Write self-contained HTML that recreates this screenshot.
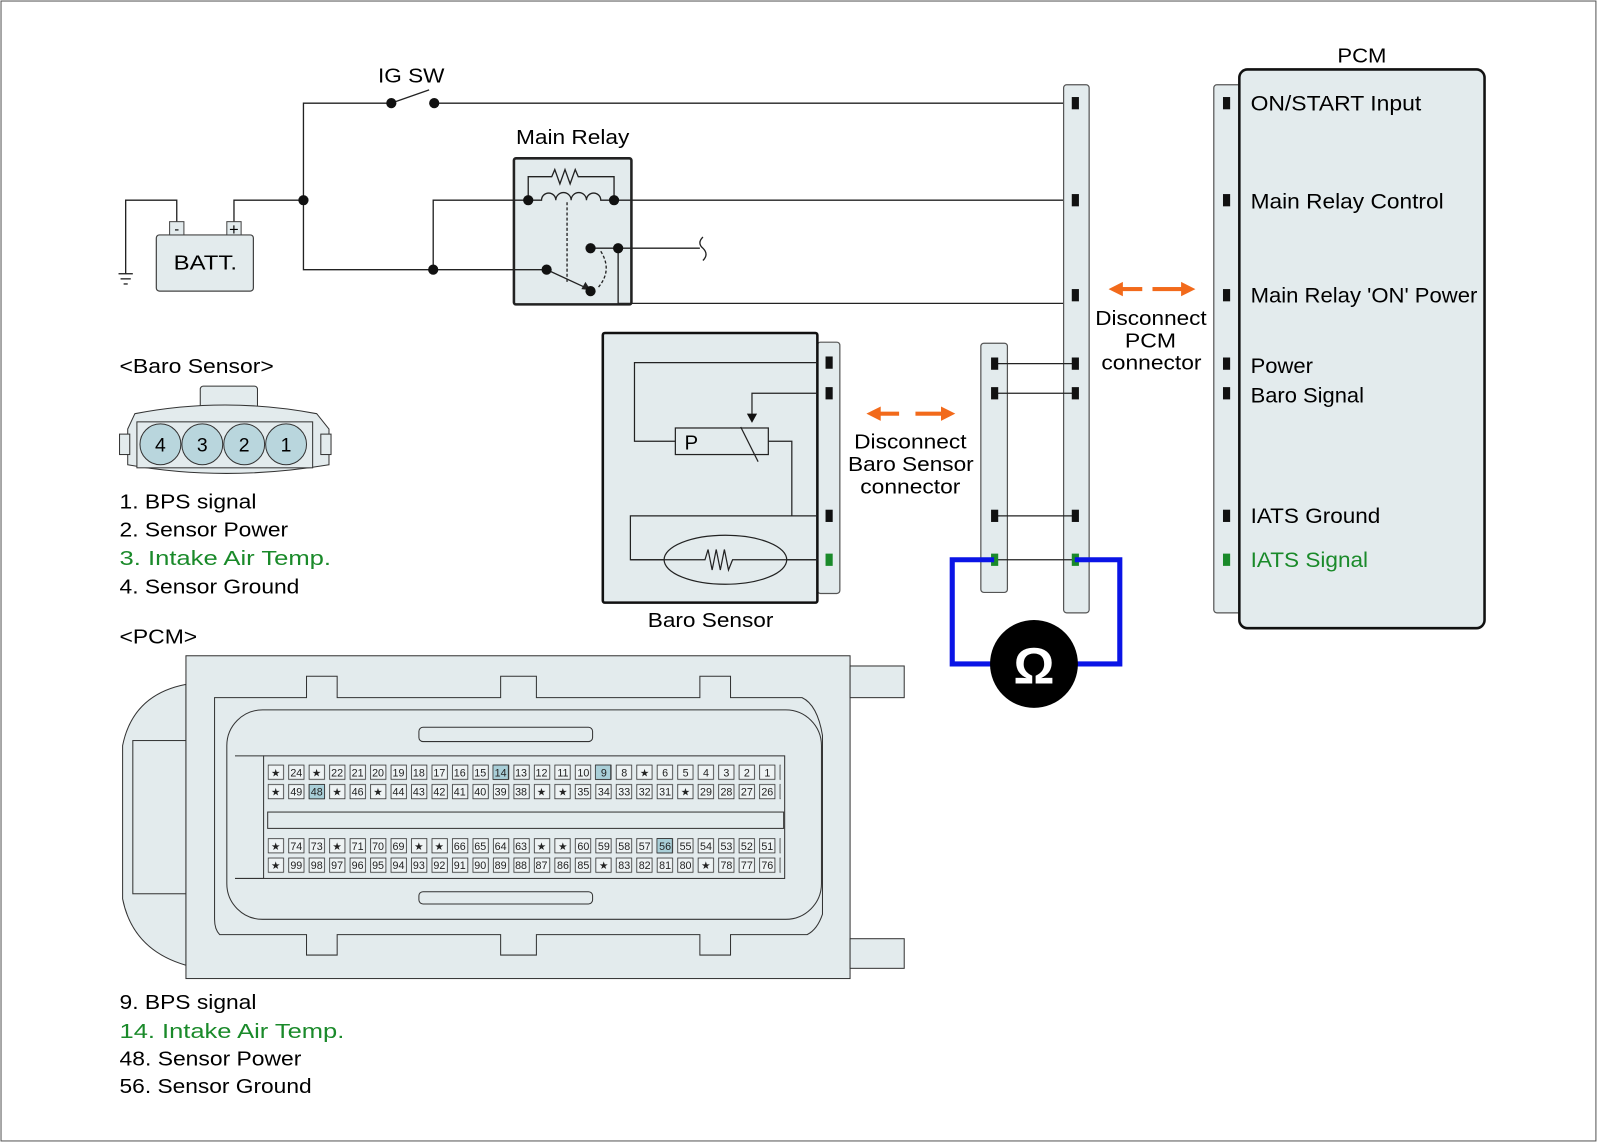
<!DOCTYPE html>
<html><head><meta charset="utf-8"><style>
html,body{margin:0;padding:0;background:#fff}
svg{display:block}
text{font-family:"Liberation Sans",sans-serif}
</style></head><body>
<svg width="1600" height="1143" viewBox="0 0 1566 1119" preserveAspectRatio="none" xmlns="http://www.w3.org/2000/svg">
<defs>
<pattern id="pins" x="262" y="0" width="20.04" height="1119" patternUnits="userSpaceOnUse">
<rect x="0.5" y="749" width="15" height="14" fill="#eef3f4" stroke="#333" stroke-width="0.8"/>
<rect x="0.5" y="768" width="15" height="14" fill="#eef3f4" stroke="#333" stroke-width="0.8"/>
<rect x="0.5" y="821" width="15" height="14" fill="#eef3f4" stroke="#333" stroke-width="0.8"/>
<rect x="0.5" y="840" width="15" height="14" fill="#eef3f4" stroke="#333" stroke-width="0.8"/>
</pattern>
</defs>
<rect x="1" y="1" width="1561" height="1116" fill="#fff" stroke="#555" stroke-width="1"/>

<!-- relay fill first -->
<rect x="503" y="155" width="115" height="143" rx="2" fill="#e3ebed"/>

<!-- wires -->
<g stroke="#222" stroke-width="1.3" fill="none">
<polyline points="297,196 297,101 383,101"/>
<line x1="383" y1="101" x2="420" y2="88"/>
<line x1="425" y1="101" x2="1052" y2="101"/>
<polyline points="173,218 173,196 123,196 123,268"/>
<line x1="116" y1="268" x2="130" y2="268"/><line x1="118" y1="273" x2="128" y2="273"/><line x1="121" y1="278" x2="125" y2="278"/>
<polyline points="229,218 229,196 297,196"/>
<polyline points="297,196 297,264 535,264"/>
<polyline points="424,264 424,196 517,196"/>
<line x1="601" y1="196" x2="1052" y2="196"/>
<polyline points="517,196 517,173 540,173 543,166 548,180 553,166 558,180 563,166 566,173 601,173 601,196"/>
<path d="M517,196 H530 a7,7 0 0 1 14,0 a7,7 0 0 1 15,0 a7,7 0 0 1 15,0 a7,7 0 0 1 14,0 H601"/>
<line x1="555" y1="198" x2="555" y2="278" stroke-dasharray="3,2"/>
<path d="M588,246 Q600,265 585,282" stroke-dasharray="3,2"/>
<line x1="535" y1="264" x2="574" y2="282"/>
<polyline points="578,243 685,243"/>
<path d="M688,232 q-6,6 0,11 q6,6 0,12"/>
<polyline points="605,243 605,297 1052,297" />
</g>
<polygon points="578,284 569,283 573,276" fill="#222"/>
<g fill="#111">
<circle cx="383" cy="101" r="5"/><circle cx="425" cy="101" r="5"/>
<circle cx="297" cy="196" r="5"/><circle cx="424" cy="264" r="5"/>
<circle cx="517" cy="196" r="5"/><circle cx="601" cy="196" r="5"/>
<circle cx="535" cy="264" r="5"/><circle cx="578" cy="285" r="5"/>
<circle cx="578" cy="243" r="5"/><circle cx="605" cy="243" r="5"/>
</g>
<rect x="503" y="155" width="115" height="143" rx="2" fill="none" stroke="#222" stroke-width="2.5"/>
<text x="370" y="81" font-size="20" textLength="65" lengthAdjust="spacingAndGlyphs">IG SW</text>
<text x="505" y="141" font-size="20" textLength="111" lengthAdjust="spacingAndGlyphs">Main Relay</text>

<!-- battery -->
<rect x="153" y="230" width="95" height="55" rx="3" fill="#e3ebed" stroke="#444" stroke-width="1.2"/>
<rect x="166" y="217" width="14" height="13" fill="#e3ebed" stroke="#444"/>
<rect x="222" y="217" width="14" height="13" fill="#e3ebed" stroke="#444"/>
<text x="173" y="229" font-size="14" text-anchor="middle">-</text>
<text x="229" y="230" font-size="16" text-anchor="middle">+</text>
<text x="170" y="264" font-size="20" textLength="62" lengthAdjust="spacingAndGlyphs">BATT.</text>

<!-- connector strips -->
<rect x="1041" y="83" width="25" height="517" rx="3" fill="#e3ebed" stroke="#555" stroke-width="1.2"/>
<rect x="960" y="336" width="26" height="244" rx="3" fill="#e3ebed" stroke="#555" stroke-width="1.2"/>
<rect x="800" y="335" width="22" height="246" rx="3" fill="#e3ebed" stroke="#555" stroke-width="1.2"/>
<rect x="1188" y="83" width="30" height="517" rx="3" fill="#e3ebed" stroke="#555" stroke-width="1.2"/>
<rect x="1213" y="68" width="240" height="547" rx="8" fill="#e3ebed" stroke="#111" stroke-width="2.5"/>
<text x="1309" y="61" font-size="20" textLength="48" lengthAdjust="spacingAndGlyphs">PCM</text>

<g stroke="#222" stroke-width="1.2" fill="none">
<line x1="973" y1="356" x2="1052" y2="356"/>
<line x1="973" y1="385" x2="1052" y2="385"/>
<line x1="973" y1="505" x2="1052" y2="505"/>
<line x1="973" y1="548" x2="1052" y2="548"/>
</g>
<g fill="#111">
<rect x="1049" y="95" width="7" height="12"/><rect x="1049" y="190" width="7" height="12"/>
<rect x="1049" y="283" width="7" height="12"/><rect x="1049" y="350" width="7" height="12"/>
<rect x="1049" y="379" width="7" height="12"/><rect x="1049" y="499" width="7" height="12"/>
<rect x="970" y="350" width="7" height="12"/><rect x="970" y="379" width="7" height="12"/>
<rect x="970" y="499" width="7" height="12"/>
<rect x="808" y="349" width="7" height="12"/><rect x="808" y="379" width="7" height="12"/>
<rect x="808" y="499" width="7" height="12"/>
<rect x="1197" y="95" width="7" height="12"/><rect x="1197" y="190" width="7" height="12"/>
<rect x="1197" y="283" width="7" height="12"/><rect x="1197" y="350" width="7" height="12"/>
<rect x="1197" y="379" width="7" height="12"/><rect x="1197" y="499" width="7" height="12"/>
</g>
<g fill="#1a8a2a">
<rect x="1049" y="542" width="7" height="12"/><rect x="970" y="542" width="7" height="12"/>
<rect x="808" y="542" width="7" height="12"/><rect x="1197" y="542" width="7" height="12"/>
</g>
<g font-size="21" lengthAdjust="spacingAndGlyphs">
<text x="1224" y="108" textLength="167" lengthAdjust="spacingAndGlyphs">ON/START Input</text>
<text x="1224" y="204" textLength="189" lengthAdjust="spacingAndGlyphs">Main Relay Control</text>
<text x="1224" y="296" textLength="222" lengthAdjust="spacingAndGlyphs">Main Relay 'ON' Power</text>
<text x="1224" y="365" textLength="61" lengthAdjust="spacingAndGlyphs">Power</text>
<text x="1224" y="394" textLength="111" lengthAdjust="spacingAndGlyphs">Baro Signal</text>
<text x="1224" y="512" textLength="127" lengthAdjust="spacingAndGlyphs">IATS Ground</text>
<text x="1224" y="555" fill="#1a8a2a" textLength="115" lengthAdjust="spacingAndGlyphs">IATS Signal</text>
</g>

<!-- baro sensor -->
<rect x="590" y="326" width="210" height="264" rx="2" fill="#e3ebed" stroke="#111" stroke-width="2.5"/>
<g stroke="#222" stroke-width="1.2" fill="none">
<polyline points="800,355 621,355 621,432 661,432"/>
<rect x="661" y="419" width="91" height="26"/>
<polyline points="800,385 736,385 736,406"/>
<line x1="725" y1="418" x2="742" y2="452"/>
<polyline points="752,432 775,432 775,505"/>
<polyline points="800,505 617,505 617,548 800,548" />
<ellipse cx="710" cy="548" rx="60" ry="24" fill="#e3ebed"/>
<polyline points="650,548 690,548 693,538 697,558 701,538 705,558 709,538 713,558 717,548 800,548"/>
<line x1="617" y1="548" x2="650" y2="548"/>
</g>
<polygon points="731,405 741,405 736,414" fill="#111"/>
<text x="670" y="440" font-size="20">P</text>
<text x="634" y="614" font-size="20" textLength="123" lengthAdjust="spacingAndGlyphs">Baro Sensor</text>

<!-- orange arrows -->
<g fill="#f26a1b">
<rect x="858" y="403" width="22" height="4"/><polygon points="848,405 862,398 862,412"/>
<rect x="896" y="403" width="27" height="4"/><polygon points="935,405 921,398 921,412"/>
<rect x="1096" y="281" width="22" height="4"/><polygon points="1085,283 1099,276 1099,290"/>
<rect x="1128" y="281" width="30" height="4"/><polygon points="1170,283 1156,276 1156,290"/>
</g>
<g font-size="20">
<text x="836" y="439" textLength="110" lengthAdjust="spacingAndGlyphs">Disconnect</text>
<text x="830" y="461" textLength="123" lengthAdjust="spacingAndGlyphs">Baro Sensor</text>
<text x="842" y="483" textLength="98" lengthAdjust="spacingAndGlyphs">connector</text>
<text x="1072" y="318" textLength="109" lengthAdjust="spacingAndGlyphs">Disconnect</text>
<text x="1101" y="340" textLength="50" lengthAdjust="spacingAndGlyphs">PCM</text>
<text x="1078" y="362" textLength="98" lengthAdjust="spacingAndGlyphs">connector</text>
</g>

<!-- ohmmeter -->
<polyline points="973,548 932,548 932,650 975,650" fill="none" stroke="#0a14e6" stroke-width="5"/>
<polyline points="1050,650 1096,650 1096,548 1052,548" fill="none" stroke="#0a14e6" stroke-width="5"/>
<circle cx="1012" cy="650" r="43" fill="#000"/>
<text x="1012" y="669" font-size="50" font-weight="bold" fill="#fff" text-anchor="middle">Ω</text>

<!-- baro connector drawing -->
<text x="117" y="365" font-size="20" textLength="151" lengthAdjust="spacingAndGlyphs">&lt;Baro Sensor&gt;</text>
<g stroke="#333" stroke-width="1" fill="#e3ebed">
<rect x="196" y="378" width="56" height="30" rx="3"/>
<path d="M132,405 Q220,388 310,405 L322,420 V455 Q220,472 125,455 V420 Z"/>
<rect x="117" y="425" width="10" height="20"/><rect x="314" y="425" width="10" height="20"/>
<rect x="134" y="413" width="172" height="45"/>
</g>
<g fill="#b9d6dd" stroke="#333" stroke-width="1">
<circle cx="157" cy="435" r="20"/><circle cx="198" cy="435" r="20"/><circle cx="239" cy="435" r="20"/><circle cx="280" cy="435" r="20"/>
</g>
<g font-size="19" text-anchor="middle"><text x="157" y="442">4</text><text x="198" y="442">3</text><text x="239" y="442">2</text><text x="280" y="442">1</text></g>
<g font-size="20">
<text x="117" y="498" textLength="134" lengthAdjust="spacingAndGlyphs">1. BPS signal</text>
<text x="117" y="525" textLength="165" lengthAdjust="spacingAndGlyphs">2. Sensor Power</text>
<text x="117" y="553" fill="#1a8a2a" textLength="207" lengthAdjust="spacingAndGlyphs">3. Intake Air Temp.</text>
<text x="117" y="581" textLength="176" lengthAdjust="spacingAndGlyphs">4. Sensor Ground</text>
<text x="117" y="630" textLength="76" lengthAdjust="spacingAndGlyphs">&lt;PCM&gt;</text>
<text x="117" y="988" textLength="134" lengthAdjust="spacingAndGlyphs">9. BPS signal</text>
<text x="117" y="1016" fill="#1a8a2a" textLength="220" lengthAdjust="spacingAndGlyphs">14. Intake Air Temp.</text>
<text x="117" y="1043" textLength="178" lengthAdjust="spacingAndGlyphs">48. Sensor Power</text>
<text x="117" y="1070" textLength="188" lengthAdjust="spacingAndGlyphs">56. Sensor Ground</text>
</g>

<!-- PCM connector drawing -->
<g stroke="#333" stroke-width="1" fill="#e3ebed">
<path d="M182,670 Q130,680 120,730 V880 Q130,930 182,945 Z"/>
<rect x="130" y="725" width="52" height="150"/>
<rect x="182" y="642" width="650" height="316"/>
<rect x="832" y="652" width="53" height="31"/><rect x="832" y="919" width="53" height="29"/>
<path d="M210,683 H300 V662 H330 V683 H490 V662 H525 V683 H685 V662 H715 V683 H785 Q800,690 805,720 V895 Q800,910 790,915 H715 V935 H685 V915 H525 V935 H490 V915 H330 V935 H300 V915 H215 Q210,910 210,900 Z" fill="none"/>
<rect x="222" y="695" width="582" height="205" rx="35" fill="none"/>
<rect x="258" y="740" width="510" height="120" fill="none"/>
<rect x="410" y="712" width="170" height="14" rx="4" fill="none"/>
<rect x="410" y="873" width="170" height="12" rx="4" fill="none"/>
<rect x="262" y="795" width="505" height="16" fill="none"/>
<line x1="230" y1="740" x2="258" y2="740"/><line x1="230" y1="860" x2="258" y2="860"/>
</g>
<rect x="262" y="745" width="502" height="115" fill="url(#pins)"/>
<g fill="#a9cfd8" stroke="#333" stroke-width="0.8">
<rect x="482.5" y="749" width="15" height="14"/><rect x="582.7" y="749" width="15" height="14"/>
<rect x="302.6" y="768" width="15" height="14"/><rect x="643" y="821" width="15" height="14"/>
</g>
<g font-size="10.5" text-anchor="middle" fill="#222">
<text x="270" y="760">★</text><text x="290" y="760">24</text><text x="310" y="760">★</text><text x="330" y="760">22</text><text x="350" y="760">21</text><text x="370" y="760">20</text><text x="390" y="760">19</text><text x="410" y="760">18</text><text x="430" y="760">17</text><text x="450" y="760">16</text><text x="470" y="760">15</text><text x="490" y="760">14</text><text x="510" y="760">13</text><text x="530" y="760">12</text><text x="551" y="760">11</text><text x="571" y="760">10</text><text x="591" y="760">9</text><text x="611" y="760">8</text><text x="631" y="760">★</text><text x="651" y="760">6</text><text x="671" y="760">5</text><text x="691" y="760">4</text><text x="711" y="760">3</text><text x="731" y="760">2</text><text x="751" y="760">1</text>
<text x="270" y="779">★</text><text x="290" y="779">49</text><text x="310" y="779">48</text><text x="330" y="779">★</text><text x="350" y="779">46</text><text x="370" y="779">★</text><text x="390" y="779">44</text><text x="410" y="779">43</text><text x="430" y="779">42</text><text x="450" y="779">41</text><text x="470" y="779">40</text><text x="490" y="779">39</text><text x="510" y="779">38</text><text x="530" y="779">★</text><text x="551" y="779">★</text><text x="571" y="779">35</text><text x="591" y="779">34</text><text x="611" y="779">33</text><text x="631" y="779">32</text><text x="651" y="779">31</text><text x="671" y="779">★</text><text x="691" y="779">29</text><text x="711" y="779">28</text><text x="731" y="779">27</text><text x="751" y="779">26</text>
<text x="270" y="832">★</text><text x="290" y="832">74</text><text x="310" y="832">73</text><text x="330" y="832">★</text><text x="350" y="832">71</text><text x="370" y="832">70</text><text x="390" y="832">69</text><text x="410" y="832">★</text><text x="430" y="832">★</text><text x="450" y="832">66</text><text x="470" y="832">65</text><text x="490" y="832">64</text><text x="510" y="832">63</text><text x="530" y="832">★</text><text x="551" y="832">★</text><text x="571" y="832">60</text><text x="591" y="832">59</text><text x="611" y="832">58</text><text x="631" y="832">57</text><text x="651" y="832">56</text><text x="671" y="832">55</text><text x="691" y="832">54</text><text x="711" y="832">53</text><text x="731" y="832">52</text><text x="751" y="832">51</text>
<text x="270" y="851">★</text><text x="290" y="851">99</text><text x="310" y="851">98</text><text x="330" y="851">97</text><text x="350" y="851">96</text><text x="370" y="851">95</text><text x="390" y="851">94</text><text x="410" y="851">93</text><text x="430" y="851">92</text><text x="450" y="851">91</text><text x="470" y="851">90</text><text x="490" y="851">89</text><text x="510" y="851">88</text><text x="530" y="851">87</text><text x="551" y="851">86</text><text x="571" y="851">85</text><text x="591" y="851">★</text><text x="611" y="851">83</text><text x="631" y="851">82</text><text x="651" y="851">81</text><text x="671" y="851">80</text><text x="691" y="851">★</text><text x="711" y="851">78</text><text x="731" y="851">77</text><text x="751" y="851">76</text>
</g>
</svg>
</body></html>
